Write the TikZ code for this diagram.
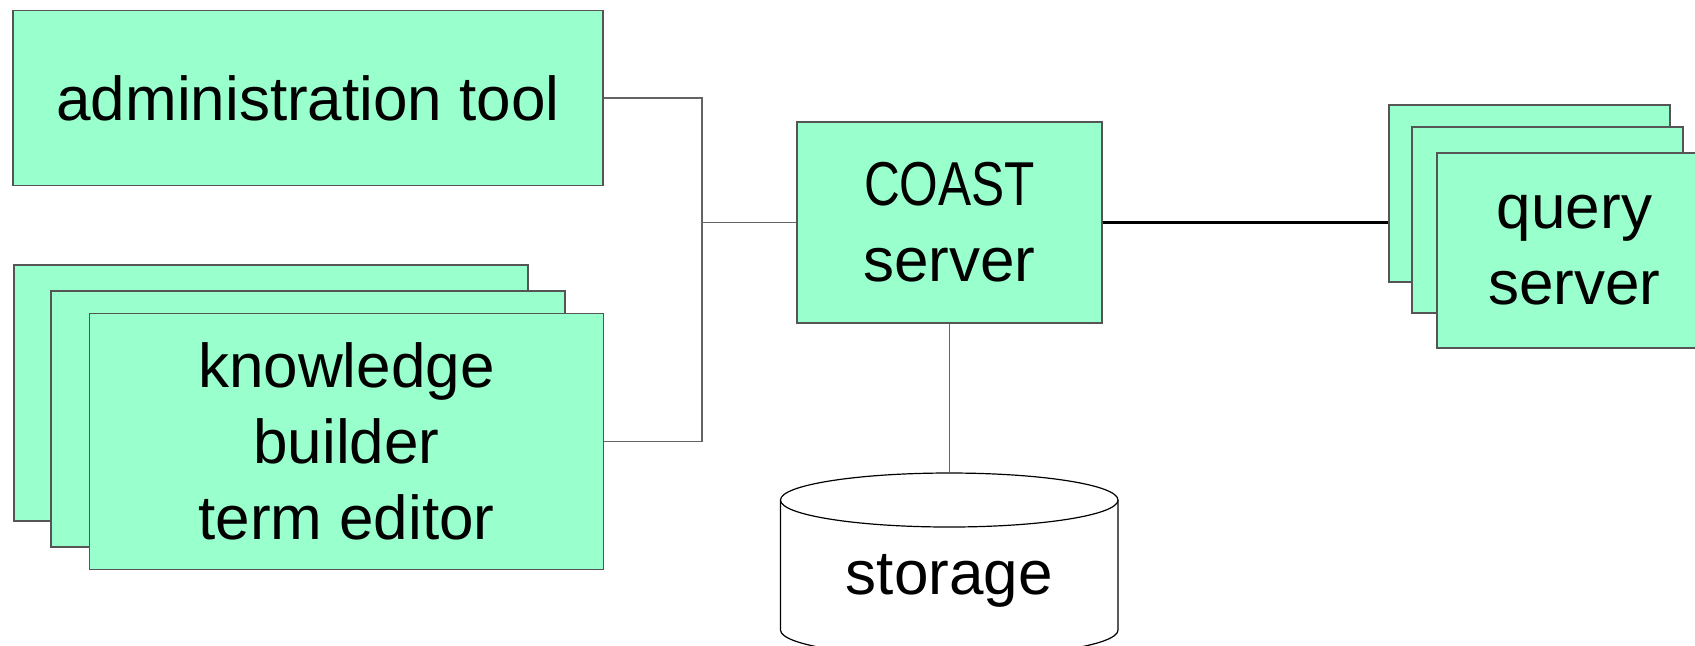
\documentclass[tikz,border=0pt]{standalone}
\usepackage{fontspec}
\usepackage{graphicx}
\setmainfont{Liberation Sans}
\definecolor{boxgreen}{RGB}{153,255,204}
\definecolor{edgegray}{RGB}{85,85,85}
\definecolor{linegray}{RGB}{100,100,100}
\tikzset{
  gbox/.style={draw=edgegray, fill=boxgreen, line width=0.6pt, inner sep=0pt, align=center,
    font=\fontsize{31pt}{38pt}\selectfont},
  wire/.style={draw=linegray, line width=0.6pt},
  thickwire/.style={draw=black, line width=1.6pt},
}
\begin{document}
\begin{tikzpicture}[x=0.5pt, y=-0.5pt]
\useasboundingbox (0,0) rectangle (1695,645);
\clip (0,0) rectangle (1695,645);
% administration tool
\node[gbox, minimum width=295pt, minimum height=87.5pt] (admin) at (308,98) {administration tool};
% knowledge builder stack
\node[gbox, minimum width=257pt, minimum height=128pt] (kb1) at (271,393) {};
\node[gbox, minimum width=257pt, minimum height=128pt] (kb2) at (308,419) {};
\node[gbox, minimum width=257pt, minimum height=128pt] (kb3) at (346.5,441.5) {knowledge\\builder\\term editor};
% COAST server
\node[gbox, minimum width=152.5pt, minimum height=100.5pt] (coast) at (949.5,222.5) {\scalebox{0.8}[1]{COAST}\\server};
% query server stack
\node[gbox, minimum width=140.5pt, minimum height=88.5pt] (q1) at (1529.5,193.5) {};
\node[gbox, minimum width=135.5pt, minimum height=93pt] (q2) at (1547.5,220) {};
\node[gbox, minimum width=137.5pt, minimum height=97.5pt] (q3) at (1574.5,250.5) {query\\server};
% storage cylinder
\draw[draw=black, line width=0.6pt, fill=white] (780.5,500) -- (780.5,630)
  arc[start angle=180, end angle=0, x radius=168.75, y radius=27] -- (1118,500);
\draw[draw=black, line width=0.6pt, fill=white] (949.25,500) ellipse [x radius=168.75, y radius=27];
\coordinate (stortop) at (949.5,473);
\node[anchor=base, font=\fontsize{31pt}{38pt}\selectfont, inner sep=0pt] (storage) at (949.25,594) {storage};
% connectors
\coordinate (bus) at (702,222.5);
\draw[wire] (admin.east) -| (bus) |- (kb3.east);
\draw[wire] (bus) -- (coast.west);
\draw[wire] (coast.south) -- (stortop);
\draw[thickwire] (coast.east) -- (coast.east -| q1.west);
\end{tikzpicture}
\end{document}
